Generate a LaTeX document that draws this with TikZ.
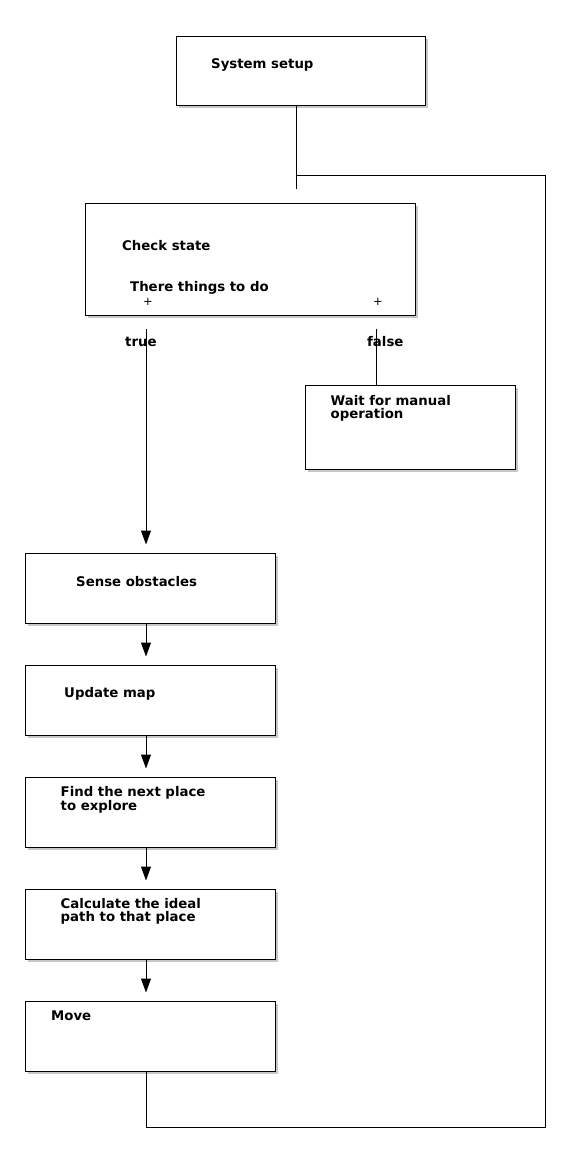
\documentclass[tikz,border=0pt]{standalone}
\usepackage{fontspec}
\setmainfont{DejaVu Sans}
\newfontfamily\boldlbl{DejaVu Sans Bold}
\usetikzlibrary{arrows.meta,shadows,calc}
\begin{document}
\begin{tikzpicture}[x=1pt,y=-1pt,
  box/.style={draw=black,line width=1pt,fill=white,anchor=north west,inner sep=0pt,
    drop shadow={shadow xshift=2.5pt,shadow yshift=-2.5pt,opacity=0.4,fill=black!55}},
  lbl/.style={anchor=base west,inner sep=0pt,font=\boldlbl\fontsize{13.3}{13.3}\selectfont,align=left},
  plus/.style={inner sep=0pt,font=\fontsize{11.5}{12}\selectfont},
  conn/.style={line width=1pt},
  arr/.style={line width=1pt,-{Triangle[length=14pt,width=10pt]},shorten >=8.5pt}]
\useasboundingbox[fill=white] (0,0) rectangle (570,1162);
% boxes
\node[box,minimum width=249pt,minimum height=69pt] (setup) at (176,36) {};
\node[box,minimum width=330pt,minimum height=112pt] (check) at (85,203) {};
\node[box,minimum width=210pt,minimum height=84pt] (wait) at (305,385) {};
\node[box,minimum width=250pt,minimum height=70pt] (sense) at (25,553) {};
\node[box,minimum width=250pt,minimum height=70pt] (update) at (25,665) {};
\node[box,minimum width=250pt,minimum height=70pt] (find) at (25,777) {};
\node[box,minimum width=250pt,minimum height=70pt] (calc) at (25,889) {};
\node[box,minimum width=250pt,minimum height=70pt] (move) at (25,1001) {};
% labels
\node[lbl] (tsetup) at (211,68) {System setup};
\node[lbl] (tcheck) at (122,250) {Check state};
\node[lbl] (tthere) at (130,291.5) {There things to do};
\node[plus] (p1) at (148,301.5) {+};
\node[plus] (p2) at (378,301.5) {+};
\node[lbl] (ttrue) at (125,346.5) {true};
\node[lbl] (tfalse) at (367,346.5) {false};
\node[lbl] (twait) at (330.5,418.3) {Wait for manual\\operation};
\node[lbl] (tsense) at (76,586) {Sense obstacles};
\node[lbl] (tupdate) at (64,697.7) {Update map};
\node[lbl] (tfind) at (60.5,810) {Find the next place\\to explore};
\node[lbl] (tcalc) at (60.5,921.7) {Calculate the ideal\\path to that place};
\node[lbl] (tmove) at (51,1020.5) {Move};
% coordinates
\coordinate (join) at (296,175);
\coordinate (setupend) at (296,189);
\coordinate (truec) at (146,329);
\coordinate (falsec) at (376,329);
\coordinate (loopbl) at (146,1127);
\coordinate (loopbr) at (545,1127);
\coordinate (looptr) at (545,175);
% connectors
\draw[conn] (setup.south -| join) -- (setupend);
\draw[conn] (move.south -| loopbl) -- (loopbl) -- (loopbr) -- (looptr) -- (join);
\draw[arr] (truec) -- (truec |- sense.north);
\draw[conn] (falsec) -- (falsec |- wait.north);
\draw[arr] (sense.south -| truec) -- (truec |- update.north);
\draw[arr] (update.south -| truec) -- (truec |- find.north);
\draw[arr] (find.south -| truec) -- (truec |- calc.north);
\draw[arr] (calc.south -| truec) -- (truec |- move.north);
\end{tikzpicture}
\end{document}
